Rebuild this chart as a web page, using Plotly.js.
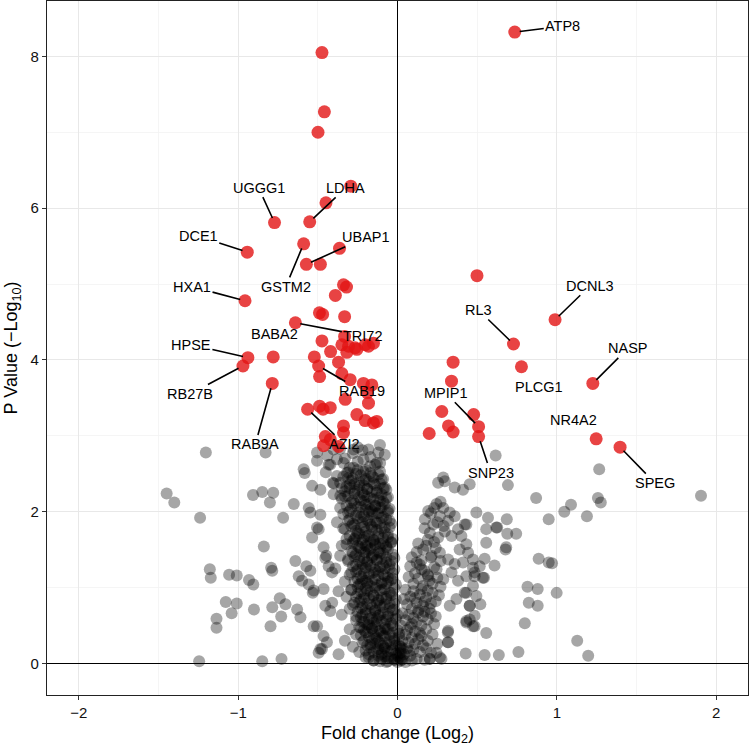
<!DOCTYPE html>
<html>
<head>
<meta charset="utf-8">
<script src="https://cdn.plot.ly/plotly-3.0.1.min.js"></script>
<style>html,body{margin:0;padding:0;background:#fff}#chart{width:749px;height:746px}</style>
</head>
<body>
<div id="chart"></div>
<script>
// ---------- DATA ----------
// significant proteins (red): [log2 fold change, -log10 p]
const sigLeft = [
 [-0.474,8.05],[-0.459,7.27],[-0.499,7.00],[-0.293,6.29],[-0.449,6.07],[-0.772,5.81],[-0.551,5.82],
 [-0.943,5.42],[-0.589,5.53],[-0.572,5.26],[-0.484,5.26],[-0.364,5.47],[-0.339,4.99],[-0.320,4.96],
 [-0.390,4.85],[-0.490,4.62],[-0.470,4.60],[-0.332,4.57],[-0.957,4.78],[-0.641,4.49],[-0.474,4.25],
 [-0.332,4.31],[-0.420,4.11],[-0.349,4.20],[-0.307,4.18],[-0.318,4.10],[-0.266,4.16],[-0.255,4.14],
 [-0.203,4.20],[-0.182,4.18],[-0.151,4.22],[-0.939,4.03],[-0.970,3.92],[-0.780,4.04],[-0.786,3.69],
 [-0.522,4.04],[-0.495,3.92],[-0.489,3.78],[-0.370,3.97],[-0.349,3.82],[-0.297,3.74],[-0.214,3.69],
 [-0.161,3.67],[-0.189,3.57],[-0.328,3.48],[-0.182,3.43],[-0.564,3.35],[-0.489,3.39],[-0.467,3.35],
 [-0.422,3.37],[-0.255,3.28],[-0.203,3.20],[-0.151,3.17],[-0.130,3.19],[-0.339,3.13],[-0.339,3.04],
 [-0.453,2.99],[-0.422,2.95],[-0.464,2.87],[-0.370,2.86]
];
const sigRight = [
 [0.736,8.32],[0.499,5.11],[0.989,4.53],[0.728,4.21],[0.778,3.91],[1.226,3.69],[0.349,3.97],
 [0.339,3.72],[0.278,3.32],[0.478,3.28],[0.320,3.13],[0.349,3.05],[0.199,3.03],[0.509,3.12],
 [0.509,2.99],[1.247,2.96],[1.397,2.85]
];

// non-significant proteins (grey)
const nsOutlierLeft = [
 [-1.449,2.24],[-1.401,2.12],[-1.239,1.92],[-1.203,2.78],[-0.828,2.78],[-0.907,2.22],[-0.849,2.26],
 [-0.780,2.25],[-0.801,2.12],[-0.718,1.92],[-0.651,2.10],[-0.582,2.51],[-0.536,2.34],[-0.484,2.29],
 [-0.839,1.54],[-1.178,1.24],[-1.172,1.13],[-1.057,1.17],[-1.009,1.16],[-0.932,1.10],[-0.905,1.04],
 [-0.793,1.26],[-0.786,1.22],[-0.641,1.35],[-1.078,0.81],[-1.009,0.79],[-1.041,0.66],[-1.136,0.59],
 [-1.136,0.47],[-0.901,0.71],[-0.797,0.49],[-0.786,0.74],[-0.739,0.86],[-0.703,0.78],[-0.730,0.62],
 [-0.630,0.71],[-0.609,0.61],[-0.526,0.49],[-1.245,0.03],[-0.849,0.03],[-0.728,0.06],[-0.620,1.15],
 [-0.572,1.28],[-0.547,1.22],[-0.532,0.93],[-0.464,0.98],[-0.547,1.99],[-0.484,1.96],[-0.505,1.79],
 [-0.536,1.66],[-0.464,1.53],[-0.453,1.39],[-0.495,0.14],[-0.474,0.19],[-0.505,2.78],[-0.599,1.09],
 [-0.557,1.04],[-0.432,1.28],[-0.411,1.20],[-0.447,1.42],[-0.526,0.96],[-0.453,0.76],[-0.422,0.69],
 [-0.505,0.49],[-0.464,0.36],[-0.484,0.19],[-0.443,0.28],[-0.495,1.77],[-0.505,2.67],[-0.422,2.62],
 [-0.380,2.69],[-0.405,2.38],[-0.318,2.51],[-0.276,2.58],[-0.214,2.53],[-0.172,2.60],[-0.109,2.64],
 [-0.401,2.23],[-0.359,2.21],[-0.557,2.05],[-0.589,2.56],[-0.432,2.62],[-0.401,2.82],[-0.339,2.64],
 [-0.276,2.82],[-0.214,2.69],[-0.182,2.82],[-0.130,2.64],[-0.250,2.85],[-0.110,2.88],[-0.080,2.75]
];
const nsEdgeLeft = [
 [-0.44,2.74],[-0.36,2.83],[-0.33,2.70],[-0.30,2.58],[-0.28,2.77],[-0.25,2.66],[-0.22,2.81],
 [-0.20,2.55],[-0.17,2.72],[-0.14,2.62],[-0.12,2.78],[-0.45,2.52],[-0.38,2.47],[-0.31,2.44],
 [-0.26,2.50],[-0.21,2.41],[-0.16,2.47],[-0.11,2.53],[-0.09,2.43],[-0.40,2.37],[-0.35,2.31],
 [-0.30,2.36],[-0.27,2.27],[-0.24,2.34],[-0.21,2.22],[-0.19,2.30],[-0.17,2.18],[-0.15,2.37],
 [-0.13,2.25],[-0.11,2.14],[-0.09,2.31],[-0.33,2.20],[-0.29,2.12],[-0.25,2.06],[-0.23,2.15],
 [-0.20,2.03],[-0.18,2.10],[-0.16,2.01],[-0.14,2.08],[-0.12,1.98],[-0.10,2.05],[-0.07,2.18],
 [-0.36,2.05],[-0.31,1.99],[-0.06,2.02],[-0.38,1.86],[-0.34,1.78],[-0.30,1.90],[-0.27,1.82],
 [-0.25,1.72],[-0.23,1.93],[-0.21,1.80],[-0.19,1.68],[-0.18,1.88],[-0.16,1.76],[-0.15,1.62],
 [-0.13,1.85],[-0.12,1.71],[-0.10,1.92],[-0.09,1.58],[-0.08,1.79],[-0.06,1.66],[-0.05,1.88],
 [-0.32,1.64],[-0.28,1.58],[-0.24,1.53],[-0.22,1.63],[-0.20,1.55],[-0.17,1.51],[-0.14,1.57],
 [-0.11,1.52],[-0.07,1.55],[-0.04,1.60],[-0.26,1.67],[-0.35,1.55],[-0.36,1.42],[-0.31,1.35],
 [-0.28,1.46],[-0.26,1.30],[-0.24,1.40],[-0.22,1.25],[-0.21,1.47],[-0.19,1.33],[-0.18,1.18],
 [-0.16,1.42],[-0.15,1.27],[-0.14,1.11],[-0.13,1.37],[-0.12,1.21],[-0.11,1.45],[-0.10,1.05],
 [-0.09,1.30],[-0.08,1.16],[-0.07,1.40],[-0.06,1.08],[-0.05,1.25],[-0.04,1.35],[-0.03,1.12],
 [-0.29,1.20],[-0.25,1.12],[-0.23,1.05],[-0.20,1.09],[-0.17,1.02],[-0.33,1.08],[-0.39,1.25],
 [-0.37,0.95],[-0.32,0.88],[-0.29,0.97],[-0.27,0.80],[-0.25,0.92],[-0.23,0.73],[-0.21,0.86],
 [-0.20,0.66],[-0.19,0.96],[-0.17,0.78],[-0.16,0.60],[-0.15,0.90],[-0.14,0.70],[-0.13,0.55],
 [-0.12,0.84],[-0.11,0.64],[-0.10,0.97],[-0.09,0.74],[-0.08,0.52],[-0.07,0.88],[-0.06,0.62],
 [-0.05,0.79],[-0.04,0.93],[-0.03,0.58],[-0.02,0.71],[-0.30,0.72],[-0.26,0.62],[-0.22,0.55],
 [-0.18,0.51],[-0.35,0.64],[-0.41,0.80],[-0.30,0.45],[-0.26,0.38],[-0.23,0.47],[-0.21,0.30],
 [-0.19,0.41],[-0.17,0.25],[-0.16,0.46],[-0.14,0.33],[-0.13,0.18],[-0.12,0.42],[-0.11,0.27],
 [-0.10,0.12],[-0.09,0.36],[-0.08,0.21],[-0.07,0.45],[-0.06,0.08],[-0.05,0.30],[-0.04,0.16],
 [-0.03,0.40],[-0.02,0.05],[-0.01,0.24],[0.00,0.02],[0.01,0.13],[0.02,0.06],[0.03,0.20],
 [-0.24,0.15],[-0.20,0.08],[-0.15,0.04],[-0.11,0.03],[-0.07,0.02],[-0.18,0.12],[-0.28,0.22],
 [-0.33,0.30],[-0.37,0.12]
];
const nsCoreLeft = [
 [-0.34,2.46],[-0.31,2.52],[-0.28,2.44],[-0.25,2.55],[-0.23,2.48],[-0.20,2.43],[-0.17,2.51],[-0.15,2.45],[-0.12,2.49],[-0.10,2.42],
 [-0.36,2.38],[-0.32,2.33],[-0.29,2.41],[-0.27,2.36],[-0.24,2.39],[-0.21,2.34],[-0.18,2.40],[-0.14,2.35],[-0.11,2.37],[-0.08,2.32],
 [-0.33,2.27],[-0.30,2.31],[-0.27,2.24],[-0.25,2.29],[-0.22,2.25],[-0.19,2.30],[-0.16,2.26],[-0.13,2.28],[-0.10,2.23],[-0.07,2.29],
 [-0.35,2.17],[-0.31,2.21],[-0.28,2.15],[-0.24,2.19],[-0.21,2.14],[-0.19,2.20],[-0.15,2.16],[-0.12,2.18],[-0.09,2.13],[-0.06,2.19],
 [-0.32,2.08],[-0.29,2.04],[-0.27,2.11],[-0.23,2.06],[-0.20,2.09],[-0.17,2.03],[-0.14,2.07],[-0.11,2.05],[-0.08,2.10],[-0.05,2.04],
 [-0.34,1.97],[-0.30,2.01],[-0.26,1.95],[-0.24,1.99],[-0.21,1.94],[-0.18,2.00],[-0.16,1.96],[-0.13,1.98],[-0.09,1.93],[-0.06,1.99],
 [-0.31,1.88],[-0.28,1.84],[-0.25,1.91],[-0.22,1.86],[-0.19,1.89],[-0.17,1.83],[-0.14,1.87],[-0.11,1.85],[-0.07,1.90],[-0.04,1.84],
 [-0.33,1.77],[-0.29,1.81],[-0.26,1.75],[-0.23,1.79],[-0.20,1.74],[-0.16,1.80],[-0.13,1.76],[-0.10,1.78],[-0.08,1.73],[-0.05,1.79],
 [-0.30,1.68],[-0.27,1.64],[-0.24,1.71],[-0.21,1.66],[-0.18,1.69],[-0.15,1.63],[-0.12,1.67],[-0.09,1.65],[-0.06,1.70],[-0.03,1.64],
 [-0.32,1.57],[-0.28,1.61],[-0.25,1.55],[-0.22,1.59],[-0.19,1.54],[-0.17,1.60],[-0.14,1.56],[-0.11,1.58],[-0.07,1.53],[-0.04,1.59],
 [-0.29,1.48],[-0.26,1.44],[-0.23,1.51],[-0.20,1.46],[-0.18,1.49],[-0.15,1.43],[-0.12,1.47],[-0.09,1.45],[-0.06,1.50],[-0.03,1.44],
 [-0.31,1.37],[-0.27,1.41],[-0.24,1.35],[-0.21,1.39],[-0.19,1.34],[-0.16,1.40],[-0.13,1.36],[-0.10,1.38],[-0.07,1.33],[-0.02,1.39],
 [-0.28,1.28],[-0.25,1.24],[-0.22,1.31],[-0.20,1.26],[-0.17,1.29],[-0.14,1.23],[-0.11,1.27],[-0.08,1.25],[-0.05,1.30],[-0.02,1.24],
 [-0.30,1.17],[-0.26,1.21],[-0.23,1.15],[-0.21,1.19],[-0.18,1.14],[-0.15,1.20],[-0.12,1.16],[-0.09,1.18],[-0.06,1.13],[-0.03,1.19],
 [-0.27,1.08],[-0.24,1.04],[-0.22,1.11],[-0.19,1.06],[-0.16,1.09],[-0.13,1.03],[-0.10,1.07],[-0.07,1.05],[-0.04,1.10],[-0.01,1.04],
 [-0.29,0.97],[-0.25,1.01],[-0.23,0.95],[-0.20,0.99],[-0.17,0.94],[-0.14,1.00],[-0.11,0.96],[-0.08,0.98],[-0.05,0.93],[-0.02,0.99],
 [-0.26,0.88],[-0.23,0.84],[-0.21,0.91],[-0.18,0.86],[-0.15,0.89],[-0.12,0.83],[-0.10,0.87],[-0.07,0.85],[-0.04,0.90],[-0.01,0.84],
 [-0.28,0.77],[-0.24,0.81],[-0.22,0.75],[-0.19,0.79],[-0.16,0.74],[-0.13,0.80],[-0.11,0.76],[-0.08,0.78],[-0.05,0.73],[-0.02,0.79],
 [-0.25,0.68],[-0.22,0.64],[-0.20,0.71],[-0.17,0.66],[-0.14,0.69],[-0.12,0.63],[-0.09,0.67],[-0.06,0.65],[-0.03,0.70],[0.00,0.64],
 [-0.26,0.57],[-0.23,0.61],[-0.21,0.55],[-0.18,0.59],[-0.15,0.54],[-0.13,0.60],[-0.10,0.56],[-0.07,0.58],[-0.04,0.53],[-0.01,0.59],
 [-0.24,0.48],[-0.21,0.44],[-0.19,0.51],[-0.16,0.46],[-0.14,0.49],[-0.11,0.43],[-0.08,0.47],[-0.06,0.45],[-0.03,0.50],[0.00,0.44],
 [-0.23,0.37],[-0.20,0.41],[-0.18,0.35],[-0.15,0.39],[-0.13,0.34],[-0.10,0.40],[-0.08,0.36],[-0.05,0.38],[-0.02,0.33],[0.01,0.39],
 [-0.22,0.28],[-0.19,0.24],[-0.16,0.31],[-0.14,0.26],[-0.12,0.29],[-0.09,0.23],[-0.07,0.27],[-0.04,0.25],[-0.02,0.30],[0.01,0.24],
 [-0.20,0.17],[-0.17,0.21],[-0.15,0.15],[-0.12,0.19],[-0.10,0.14],[-0.08,0.20],[-0.06,0.16],[-0.03,0.18],[-0.01,0.13],[0.02,0.19],
 [-0.18,0.08],[-0.15,0.04],[-0.12,0.10],[-0.10,0.06],[-0.08,0.09],[-0.06,0.03],[-0.04,0.07],[-0.02,0.05],[0.00,0.10],[0.02,0.04]
];
const nsRightBranch = [
 [0.193,2.01],[0.245,2.10],[0.287,2.05],[0.328,1.99],[0.172,1.90],[0.224,1.83],[0.266,1.94],[0.318,1.88],
 [0.359,1.94],[0.203,1.72],[0.255,1.66],[0.297,1.74],[0.339,1.68],[0.380,1.77],[0.422,1.83],[0.401,1.68],
 [0.432,1.57],[0.390,1.50],[0.443,1.46],[0.161,1.50],[0.214,1.42],[0.266,1.46],[0.318,1.37],[0.359,1.31],
 [0.411,1.33],[0.474,1.37],[0.516,1.28],[0.120,1.33],[0.151,1.24],[0.193,1.15],[0.245,1.24],[0.287,1.11],
 [0.339,1.20],[0.380,1.09],[0.432,1.15],[0.484,1.20],[0.536,1.13],[0.474,1.02],[0.422,0.93],[0.370,0.85],
 [0.328,0.76],[0.453,0.76],[0.484,0.63],[0.432,0.54],[0.318,0.43],[0.318,0.28],[0.245,0.14],[0.203,0.06],
 [0.266,0.08],[0.09,1.40],[0.12,1.47],[0.15,1.36],[0.18,1.55],[0.21,1.40],[0.24,1.52],[0.27,1.35],
 [0.13,1.58],[0.19,1.63],[0.23,1.60],[0.17,1.78],[0.21,1.98],[0.25,1.86],[0.29,1.81],[0.23,2.05],[0.27,2.13]
];
const nsCoreRight = [
 [0.08,1.28],[0.11,1.19],[0.14,1.30],[0.17,1.22],[0.20,1.09],[0.23,1.27],[0.10,1.05],[0.13,1.12],[0.16,1.02],
 [0.19,1.17],[0.22,1.05],[0.25,1.13],[0.07,1.14],[0.27,1.01],[0.05,0.97],[0.08,0.88],[0.10,0.95],[0.12,0.80],
 [0.14,0.91],[0.16,0.76],[0.18,0.87],[0.20,0.72],[0.22,0.93],[0.24,0.82],[0.06,0.78],[0.09,0.72],[0.11,0.86],
 [0.13,0.70],[0.15,0.98],[0.17,0.82],[0.19,0.96],[0.21,0.79],[0.26,0.90],[0.04,0.85],[0.03,0.66],[0.05,0.57],
 [0.07,0.64],[0.08,0.48],[0.10,0.60],[0.11,0.42],[0.12,0.55],[0.13,0.67],[0.15,0.50],[0.16,0.62],[0.18,0.45],
 [0.19,0.58],[0.21,0.66],[0.23,0.52],[0.06,0.44],[0.09,0.52],[0.14,0.40],[0.17,0.68],[0.24,0.62],[0.02,0.50],
 [0.01,0.35],[0.02,0.22],[0.03,0.30],[0.04,0.12],[0.05,0.38],[0.06,0.20],[0.07,0.28],[0.08,0.10],[0.09,0.34],
 [0.10,0.18],[0.11,0.26],[0.12,0.06],[0.13,0.32],[0.14,0.15],[0.16,0.24],[0.17,0.05],[0.19,0.30],[0.21,0.14],
 [0.03,0.05],[0.05,0.02],[0.07,0.16],[0.09,0.04],[0.15,0.36],[0.18,0.20],[0.22,0.38],[0.25,0.26],[0.01,0.08],[0.02,0.14]
];
const nsOutlierRight = [
 [1.266,2.56],[1.905,2.21],[0.870,2.18],[1.089,2.09],[1.047,2.00],[1.258,2.18],[1.276,2.12],[1.189,1.94],
 [0.949,1.90],[0.886,1.38],[0.949,1.33],[0.970,1.32],[0.816,1.01],[0.880,0.98],[0.999,0.93],[0.824,0.80],
 [0.880,0.76],[0.799,0.53],[1.128,0.30],[1.197,0.10],[0.759,0.15],[0.636,0.11],[0.547,0.11],[0.428,0.13],
 [0.557,0.40],[0.693,2.35],[0.686,1.90],[0.689,1.71],[0.745,1.71],[0.678,1.50],[0.609,1.29],[0.626,1.79],
 [0.557,1.77],[0.568,1.92],[0.557,1.59],[0.547,1.38],[0.543,1.13],[0.484,1.15],[0.520,0.78],[0.453,0.76],
 [0.432,0.56],[0.484,0.49],[0.616,2.74],[0.255,2.38],[0.297,2.40],[0.359,2.32],[0.411,2.29],[0.453,2.36],
 [0.287,2.45],[0.432,1.83],[0.495,1.99],[0.620,1.79],[0.682,1.53],[0.474,1.26],[0.432,0.93],[0.495,0.89],
 [0.453,0.58],[0.474,0.49],[0.316,0.41],[0.316,0.28],[0.203,0.06],[0.276,0.06]
];

// labelled genes: name, fold change, p value
const labelGenes = ['ATP8','UGGG1','LDHA','DCE1','UBAP1','GSTM2','HXA1','BABA2','TRI72','HPSE','RB27B',
  'RAB9A','RAB19','AZI2','DCNL3','RL3','PLCG1','NASP','MPIP1','SNP23','NR4A2','SPEG'];
const labelFC = [0.736,-0.772,-0.551,-0.943,-0.572,-0.589,-0.957,-0.641,-0.641,-0.939,-0.970,
  -0.786,-0.495,-0.564,0.989,0.728,0.778,1.226,0.509,0.509,1.247,1.397];
const labelP = [8.32,5.81,5.82,5.42,5.26,5.53,4.78,4.49,4.49,4.03,3.92,
  3.69,3.92,3.35,4.53,4.21,3.91,3.69,3.12,2.99,2.96,2.85];
// ---------- STYLE / LAYOUT HELPERS ----------
// label text offsets from the point, in pixels, and whether a leader segment is drawn
const labelDX = [48,-16,36,-49,60,-18,-53,-21,68,-57,-53,-17,43,37,35,-35,18,35,-33,12,-23,35];
const labelDY = [-6,-35,-34,-16,-27,43,-14,11,13,-13,28,61,25,35,-34,-34,20,-35,-34,36,-19,36];
const labelSeg = [1,1,1,1,1,1,1,0,1,1,1,1,1,1,1,1,0,1,1,1,0,1];

const nsAll = [].concat(nsOutlierLeft, nsEdgeLeft, nsCoreLeft, nsRightBranch, nsCoreRight, nsOutlierRight);
const sigAll = [].concat(sigLeft, sigRight);

const FONT = '"Liberation Sans", Arial, Helvetica, sans-serif';

const traces = [
  {type:'scatter', mode:'markers', x: nsAll.map(p=>p[0]), y: nsAll.map(p=>p[1]),
   marker:{size:12, color:'rgba(0,0,0,0.35)', line:{width:0}}, hoverinfo:'skip'},
  {type:'scatter', mode:'markers', x: sigAll.map(p=>p[0]), y: sigAll.map(p=>p[1]),
   marker:{size:13, color:'rgba(226,20,20,0.8)', line:{width:0}}, hoverinfo:'skip'}
];

const annotations = labelGenes.map((g,i)=>({
  x: labelFC[i], y: labelP[i], xref:'x', yref:'y', text: g,
  showarrow: true, ax: labelDX[i], ay: labelDY[i], axref:'pixel', ayref:'pixel',
  arrowhead: 0, arrowwidth: 1.6, standoff: 5,
  arrowcolor: labelSeg[i] ? '#000' : 'rgba(0,0,0,0)',
  font:{family:FONT, size:14.5, color:'#000'}
}));

const axisCommon = {
  showgrid:true, gridcolor:'#e8e8e8', gridwidth:1.1,
  zeroline:true, zerolinecolor:'#000', zerolinewidth:1.4,
  showline:true, mirror:true, linecolor:'#222', linewidth:1.1,
  ticks:'outside', ticklen:4, tickwidth:1, tickcolor:'#333',
  tickfont:{family:FONT, size:15, color:'#111'},
  automargin:false
};

const layout = {
  width:749, height:746,
  margin:{l:47, r:1, t:1, b:51, pad:0},
  paper_bgcolor:'#fff', plot_bgcolor:'#fff',
  showlegend:false,
  xaxis: Object.assign({}, axisCommon, {
    range:[-2.2,2.2], tickmode:'array', tickvals:[-2,-1,0,1,2], ticktext:['−2','−1','0','1','2'],
    minor:{tickvals:[-1.5,-0.5,0.5,1.5], showgrid:true, gridcolor:'#f2f2f2', gridwidth:0.8, ticklen:0},
    title:{text:'Fold change (Log<sub>2</sub>)', font:{family:FONT, size:18, color:'#000'}, standoff:6}
  }),
  yaxis: Object.assign({}, axisCommon, {
    range:[-0.416,8.73], tickmode:'array', tickvals:[0,2,4,6,8],
    minor:{tickvals:[1,3,5,7], showgrid:true, gridcolor:'#f2f2f2', gridwidth:0.8, ticklen:0},
    title:{text:'P Value (−Log<sub>10</sub>)', font:{family:FONT, size:18, color:'#000'}, standoff:8}
  }),
  annotations: annotations
};

Plotly.newPlot('chart', traces, layout, {displayModeBar:false, staticPlot:true});
</script>
</body>
</html>
